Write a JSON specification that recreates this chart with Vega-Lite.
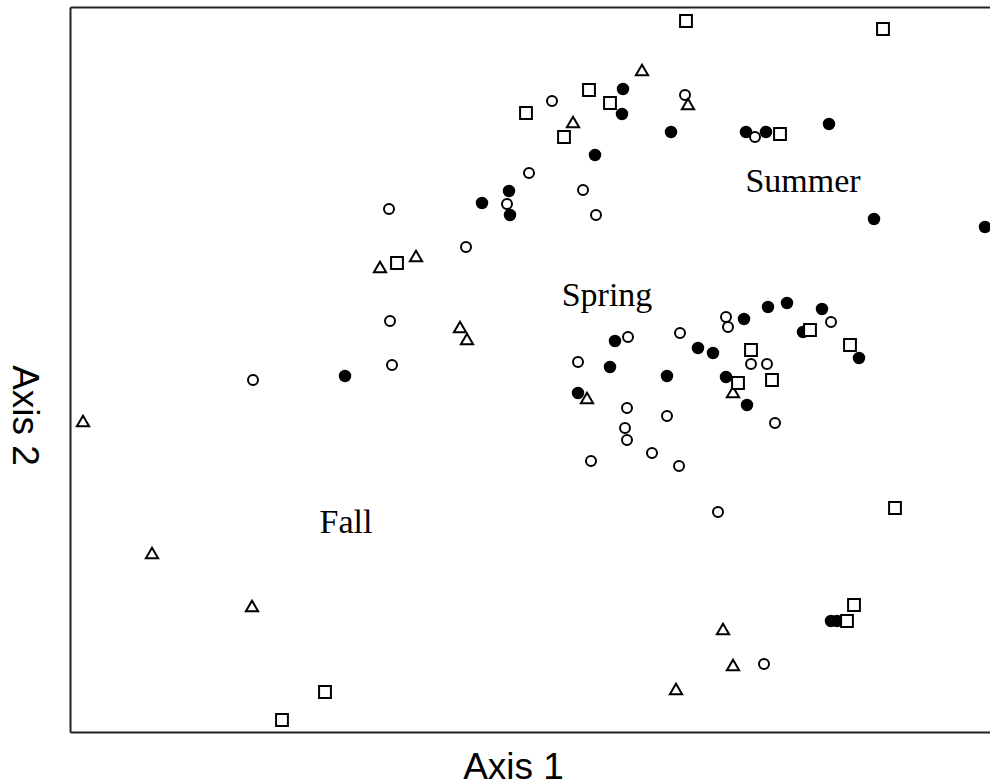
{
  "$schema": "https://vega.github.io/schema/vega-lite/v6.json",
  "width": 935,
  "height": 725,
  "autosize": "none",
  "padding": {"left": 70, "top": 7, "right": 0, "bottom": 52},
  "background": "white",
  "config": {"view": {"stroke": null}},
  "datasets": {
    "points": [
      {"group": "G1", "axis1": 553, "axis2": 643},
      {"group": "G1", "axis1": 552, "axis2": 618},
      {"group": "G1", "axis1": 601, "axis2": 600},
      {"group": "G1", "axis1": 676, "axis2": 600},
      {"group": "G1", "axis1": 696, "axis2": 600},
      {"group": "G1", "axis1": 759, "axis2": 608},
      {"group": "G1", "axis1": 525, "axis2": 577},
      {"group": "G1", "axis1": 412, "axis2": 529},
      {"group": "G1", "axis1": 439, "axis2": 541},
      {"group": "G1", "axis1": 440, "axis2": 517},
      {"group": "G1", "axis1": 804, "axis2": 513},
      {"group": "G1", "axis1": 915, "axis2": 505},
      {"group": "G1", "axis1": 275, "axis2": 356},
      {"group": "G1", "axis1": 545, "axis2": 391},
      {"group": "G1", "axis1": 540, "axis2": 365},
      {"group": "G1", "axis1": 508, "axis2": 339},
      {"group": "G1", "axis1": 628, "axis2": 384},
      {"group": "G1", "axis1": 643, "axis2": 379},
      {"group": "G1", "axis1": 597, "axis2": 356},
      {"group": "G1", "axis1": 656, "axis2": 355},
      {"group": "G1", "axis1": 674, "axis2": 413},
      {"group": "G1", "axis1": 698, "axis2": 425},
      {"group": "G1", "axis1": 717, "axis2": 429},
      {"group": "G1", "axis1": 752, "axis2": 423},
      {"group": "G1", "axis1": 733, "axis2": 400},
      {"group": "G1", "axis1": 789, "axis2": 374},
      {"group": "G1", "axis1": 677, "axis2": 327},
      {"group": "G1", "axis1": 761, "axis2": 111},
      {"group": "G1", "axis1": 767, "axis2": 111},
      {"group": "G2", "axis1": 482, "axis2": 631},
      {"group": "G2", "axis1": 615, "axis2": 637},
      {"group": "G2", "axis1": 685, "axis2": 595},
      {"group": "G2", "axis1": 459, "axis2": 559},
      {"group": "G2", "axis1": 513, "axis2": 542},
      {"group": "G2", "axis1": 526, "axis2": 517},
      {"group": "G2", "axis1": 437, "axis2": 528},
      {"group": "G2", "axis1": 319, "axis2": 523},
      {"group": "G2", "axis1": 396, "axis2": 485},
      {"group": "G2", "axis1": 320, "axis2": 411},
      {"group": "G2", "axis1": 322, "axis2": 367},
      {"group": "G2", "axis1": 183, "axis2": 352},
      {"group": "G2", "axis1": 508, "axis2": 370},
      {"group": "G2", "axis1": 558, "axis2": 395},
      {"group": "G2", "axis1": 610, "axis2": 399},
      {"group": "G2", "axis1": 656, "axis2": 415},
      {"group": "G2", "axis1": 658, "axis2": 405},
      {"group": "G2", "axis1": 681, "axis2": 368},
      {"group": "G2", "axis1": 697, "axis2": 368},
      {"group": "G2", "axis1": 761, "axis2": 410},
      {"group": "G2", "axis1": 557, "axis2": 324},
      {"group": "G2", "axis1": 597, "axis2": 316},
      {"group": "G2", "axis1": 555, "axis2": 304},
      {"group": "G2", "axis1": 557, "axis2": 292},
      {"group": "G2", "axis1": 582, "axis2": 279},
      {"group": "G2", "axis1": 521, "axis2": 271},
      {"group": "G2", "axis1": 609, "axis2": 266},
      {"group": "G2", "axis1": 705, "axis2": 309},
      {"group": "G2", "axis1": 648, "axis2": 220},
      {"group": "G2", "axis1": 694, "axis2": 68},
      {"group": "G3", "axis1": 572, "axis2": 662},
      {"group": "G3", "axis1": 618, "axis2": 628},
      {"group": "G3", "axis1": 503, "axis2": 610},
      {"group": "G3", "axis1": 310, "axis2": 465},
      {"group": "G3", "axis1": 346, "axis2": 476},
      {"group": "G3", "axis1": 390, "axis2": 405},
      {"group": "G3", "axis1": 397, "axis2": 393},
      {"group": "G3", "axis1": 517, "axis2": 334},
      {"group": "G3", "axis1": 663, "axis2": 340},
      {"group": "G3", "axis1": 13, "axis2": 311},
      {"group": "G3", "axis1": 82, "axis2": 179},
      {"group": "G3", "axis1": 182, "axis2": 126},
      {"group": "G3", "axis1": 653, "axis2": 103},
      {"group": "G3", "axis1": 663, "axis2": 67},
      {"group": "G3", "axis1": 606, "axis2": 43},
      {"group": "G4", "axis1": 616, "axis2": 711},
      {"group": "G4", "axis1": 813, "axis2": 703},
      {"group": "G4", "axis1": 456, "axis2": 619},
      {"group": "G4", "axis1": 519, "axis2": 642},
      {"group": "G4", "axis1": 540, "axis2": 629},
      {"group": "G4", "axis1": 494, "axis2": 595},
      {"group": "G4", "axis1": 710, "axis2": 598},
      {"group": "G4", "axis1": 327, "axis2": 469},
      {"group": "G4", "axis1": 740, "axis2": 402},
      {"group": "G4", "axis1": 780, "axis2": 387},
      {"group": "G4", "axis1": 681, "axis2": 382},
      {"group": "G4", "axis1": 668, "axis2": 349},
      {"group": "G4", "axis1": 702, "axis2": 352},
      {"group": "G4", "axis1": 825, "axis2": 224},
      {"group": "G4", "axis1": 784, "axis2": 127},
      {"group": "G4", "axis1": 777, "axis2": 111},
      {"group": "G4", "axis1": 255, "axis2": 40},
      {"group": "G4", "axis1": 212, "axis2": 12}
    ],
    "labels": [
      {"label": "Summer", "axis1": 733, "axis2": 540},
      {"label": "Spring", "axis1": 537, "axis2": 426},
      {"label": "Fall", "axis1": 276, "axis2": 199}
    ]
  },
  "resolve": {"axis": {"x": "independent"}},
  "layer": [
    {
      "data": {"name": "points"},
      "mark": {"type": "point", "filled": true, "stroke": "black", "strokeWidth": 2, "opacity": 1},
      "encoding": {
        "x": {
          "field": "axis1", "type": "quantitative",
          "scale": {"domain": [0, 935], "nice": false, "zero": false},
          "axis": {"title": "Axis 1", "labels": false, "ticks": false, "grid": false,
            "domain": true, "domainColor": "#222222", "domainWidth": 2,
            "titleFont": "Liberation Sans", "titleFontSize": 37, "titleFontWeight": "normal", "titleColor": "black",
            "titleX": 443, "titleY": 46, "titleBaseline": "alphabetic", "titleAlign": "center"}
        },
        "y": {
          "field": "axis2", "type": "quantitative",
          "scale": {"domain": [0, 725], "nice": false, "zero": false},
          "axis": {"title": "Axis 2", "labels": false, "ticks": false, "grid": false,
            "domain": true, "domainColor": "#222222", "domainWidth": 2,
            "titleFont": "Liberation Sans", "titleFontSize": 37, "titleFontWeight": "normal", "titleColor": "black",
            "titleAngle": 90, "titleX": -58, "titleY": 408, "titleBaseline": "alphabetic", "titleAlign": "center"}
        },
        "shape": {"field": "group", "type": "nominal",
          "scale": {"domain": ["G1", "G2", "G3", "G4"], "range": ["circle", "circle", "triangle-up", "square"]},
          "legend": null},
        "fill": {"field": "group", "type": "nominal",
          "scale": {"domain": ["G1", "G2", "G3", "G4"], "range": ["black", "white", "white", "white"]},
          "legend": null},
        "size": {"field": "group", "type": "nominal",
          "scale": {"type": "ordinal", "domain": ["G1", "G2", "G3", "G4"], "range": [110, 100, 150, 140]},
          "legend": null}
      }
    },
    {
      "data": {"name": "labels"},
      "mark": {"type": "text", "font": "Liberation Serif", "fontSize": 34, "align": "center", "baseline": "alphabetic", "color": "black"},
      "encoding": {
        "x": {"field": "axis1", "type": "quantitative",
          "axis": {"orient": "top", "title": null, "labels": false, "ticks": false, "grid": false,
            "domain": true, "domainColor": "#222222", "domainWidth": 2}},
        "y": {"field": "axis2", "type": "quantitative"},
        "text": {"field": "label", "type": "nominal"}
      }
    }
  ]
}
